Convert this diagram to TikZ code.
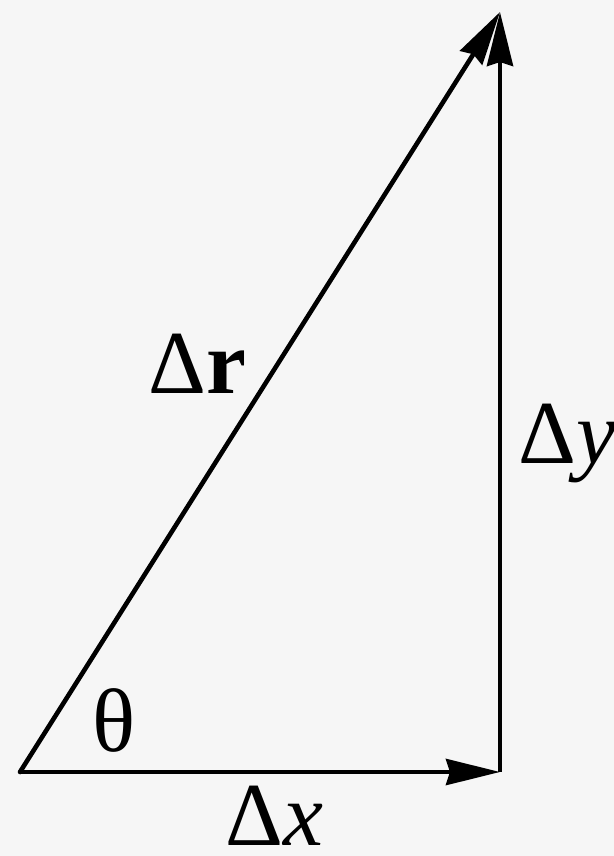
\documentclass[tikz,border=0pt]{standalone}
\usepackage{fontspec}
\setmainfont{Liberation Serif}
\usepackage{xcolor}
\usetikzlibrary{arrows.meta, positioning}

\definecolor{paper}{HTML}{F6F6F6}

\begin{document}
\begin{tikzpicture}[
    x=0.5pt, y=-0.5pt,
    % ── Vector arrows: thick black, filled stealth head ──────────────
    vec/.style={line width=2.3pt, draw=black,
        -{Stealth[length=27pt, width=13pt, inset=2pt]}},
    % ── Labels: big serif, anchored on their baseline ────────────────
    lbl/.style={font=\fontsize{45}{50}\selectfont, inner sep=0pt,
        anchor=base west, text=black}
]

% ══════════════════════════════════════════════════════════════════════
% PAPER
% ══════════════════════════════════════════════════════════════════════
    \fill[paper] (0,0) rectangle (614,856);
    \useasboundingbox (0,0) rectangle (614,856);

% ══════════════════════════════════════════════════════════════════════
% CORNERS OF THE TRIANGLE
% ══════════════════════════════════════════════════════════════════════
    \coordinate (orig)   at (20,772);
    \coordinate (corner) at (500,772);
    \coordinate (apex)   at (500,12);

% ══════════════════════════════════════════════════════════════════════
% VECTORS
% ══════════════════════════════════════════════════════════════════════
    \draw[vec] (orig) -- (corner);
    \draw[vec] (corner) -- (apex);
    \draw[vec, line cap=round] (orig) -- (apex);

% ══════════════════════════════════════════════════════════════════════
% LABELS
% ══════════════════════════════════════════════════════════════════════
    \node[lbl] (dr)    at (148,393) {Δ\textbf{r}};
    \node[lbl] (dy)    at (518,463) {Δ\textit{y}};
    \node[lbl] (dx)    at (225,845) {Δ\textit{x}};
    \node[lbl] (theta) at (92,751)  {θ};

\end{tikzpicture}
\end{document}
